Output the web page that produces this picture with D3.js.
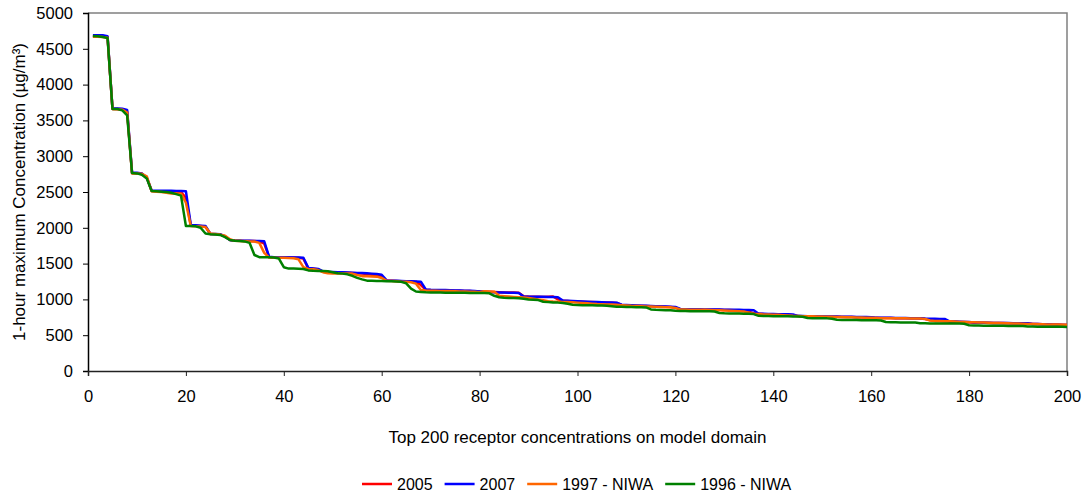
<!DOCTYPE html>
<html>
<head>
<meta charset="utf-8">
<script src="https://cdn.jsdelivr.net/npm/d3@7"></script>
<style>
  html, body { margin: 0; padding: 0; background: #fff; }
  svg { display: block; font-family: Arial, "Liberation Sans", sans-serif; }
</style>
</head>
<body>
<svg id="chart" width="1091" height="497"></svg>
<script>
// Receptor rank (1 = highest concentration) on the model domain
const ranks = d3.range(1, 201);

// 1-hour maximum concentrations (µg/m³) for each met year, ranked
const s2005 = [
  4680, 4680, 4678, 4665, 3660, 3660, 3655, 3620, 2765, 2762,
  2755, 2700, 2515, 2512, 2510, 2508, 2506, 2505, 2500, 2420,
  2030, 2028, 2025, 2015, 1912, 1910, 1905, 1880, 1830, 1820,
  1818, 1816, 1815, 1814, 1810, 1780, 1590, 1588, 1586, 1585,
  1585, 1584, 1582, 1570, 1435, 1430, 1420, 1385, 1380, 1378,
  1376, 1374, 1372, 1368, 1365, 1360, 1355, 1345, 1335, 1320,
  1262, 1260, 1258, 1255, 1252, 1250, 1248, 1200, 1135, 1130,
  1128, 1126, 1125, 1124, 1122, 1120, 1118, 1116, 1112, 1110,
  1108, 1105, 1102, 1100, 1098, 1096, 1095, 1094, 1045, 1040,
  1038, 1036, 1035, 1038, 1040, 1000, 980, 976, 972, 970,
  968, 965, 962, 960, 958, 956, 954, 950, 922, 918,
  915, 912, 910, 908, 906, 903, 900, 898, 895, 885,
  862, 860, 860, 858, 858, 856, 856, 855, 854, 853,
  852, 850, 848, 846, 830, 805, 800, 796, 794, 792,
  790, 788, 786, 780, 768, 766, 764, 763, 762, 760,
  758, 757, 756, 755, 754, 753, 752, 750, 748, 746,
  742, 740, 740, 739, 738, 738, 737, 736, 735, 734,
  725, 712, 700, 698, 696, 690, 688, 686, 684, 682,
  675, 674, 673, 672, 671, 670, 669, 668, 667, 666,
  665, 664, 658, 656, 654, 652, 650, 648, 646, 644
];

const s2007 = [
  4690, 4690, 4688, 4675, 3665, 3665, 3662, 3645, 2770, 2768,
  2760, 2700, 2520, 2518, 2518, 2516, 2516, 2515, 2515, 2512,
  2040, 2035, 2030, 2025, 1915, 1912, 1910, 1880, 1830, 1822,
  1820, 1818, 1818, 1816, 1815, 1812, 1595, 1590, 1590, 1588,
  1588, 1586, 1585, 1582, 1440, 1432, 1425, 1390, 1385, 1382,
  1380, 1378, 1375, 1372, 1370, 1368, 1365, 1360, 1355, 1345,
  1265, 1262, 1260, 1258, 1255, 1252, 1250, 1248, 1140, 1135,
  1132, 1130, 1130, 1128, 1126, 1124, 1122, 1120, 1116, 1112,
  1108, 1104, 1100, 1098, 1096, 1094, 1092, 1090, 1040, 1038,
  1038, 1036, 1036, 1034, 1034, 1030, 983, 980, 978, 975,
  972, 968, 965, 962, 960, 958, 955, 953, 925, 922,
  918, 915, 912, 910, 908, 905, 902, 900, 898, 895,
  866, 864, 863, 862, 861, 860, 860, 859, 858, 857,
  856, 855, 854, 853, 852, 848, 800, 798, 796, 795,
  794, 793, 792, 790, 770, 768, 766, 765, 764, 763,
  762, 761, 760, 758, 757, 756, 755, 754, 753, 752,
  745, 744, 743, 742, 741, 740, 739, 738, 737, 736,
  732, 730, 729, 728, 727, 692, 690, 688, 686, 684,
  676, 675, 674, 673, 672, 671, 670, 669, 668, 668,
  667, 666, 656, 655, 654, 652, 648, 646, 644, 642
];

const s1997 = [
  4670, 4668, 4665, 4655, 3660, 3655, 3650, 3610, 2760, 2760,
  2755, 2720, 2510, 2505, 2500, 2490, 2480, 2478, 2475, 2350,
  2025, 2020, 2018, 2010, 1920, 1915, 1905, 1890, 1840, 1818,
  1815, 1812, 1810, 1808, 1790, 1650, 1585, 1582, 1580, 1580,
  1578, 1575, 1560, 1450, 1425, 1420, 1410, 1380, 1365, 1362,
  1360, 1362, 1362, 1360, 1340, 1325, 1322, 1320, 1318, 1300,
  1260, 1256, 1252, 1248, 1245, 1240, 1220, 1130, 1125, 1122,
  1120, 1118, 1118, 1116, 1114, 1112, 1110, 1108, 1106, 1100,
  1115, 1112, 1108, 1050, 1045, 1040, 1035, 1030, 1025, 1020,
  1010, 1000, 990, 975, 970, 968, 965, 962, 960, 955,
  950, 945, 940, 935, 932, 930, 928, 925, 920, 915,
  910, 908, 905, 902, 900, 898, 895, 892, 890, 880,
  860, 858, 857, 856, 855, 854, 852, 850, 848, 845,
  842, 838, 835, 830, 815, 800, 795, 790, 788, 786,
  784, 780, 775, 770, 768, 766, 765, 764, 762, 760,
  758, 756, 755, 753, 752, 750, 748, 746, 744, 742,
  740, 738, 737, 736, 736, 735, 735, 734, 733, 732,
  728, 705, 700, 698, 696, 694, 690, 686, 684, 682,
  680, 678, 676, 674, 672, 670, 668, 666, 664, 662,
  660, 658, 656, 654, 652, 650, 648, 648, 647, 646
];

const s1996 = [
  4680, 4675, 4665, 4650, 3660, 3660, 3640, 3570, 2765, 2760,
  2740, 2690, 2514, 2510, 2505, 2500, 2490, 2470, 2450, 2025,
  2025, 2020, 2000, 1920, 1910, 1905, 1900, 1870, 1830, 1820,
  1815, 1810, 1790, 1620, 1590, 1588, 1588, 1585, 1570, 1450,
  1430, 1430, 1428, 1425, 1405, 1400, 1398, 1395, 1392, 1380,
  1365, 1360, 1350, 1330, 1300, 1280, 1262, 1260, 1258, 1256,
  1254, 1252, 1250, 1245, 1225, 1150, 1110, 1105, 1100, 1098,
  1096, 1095, 1094, 1094, 1093, 1092, 1092, 1091, 1090, 1090,
  1088, 1085, 1050, 1030, 1024, 1020, 1018, 1015, 1010, 1000,
  995, 990, 968, 962, 958, 955, 950, 940, 925, 922,
  920, 920, 918, 916, 914, 912, 905, 898, 896, 895,
  893, 892, 890, 888, 860, 855, 852, 850, 848, 840,
  838, 837, 836, 835, 835, 834, 833, 830, 810, 805,
  804, 803, 802, 800, 798, 795, 770, 768, 767, 766,
  765, 764, 763, 762, 760, 758, 740, 738, 737, 736,
  735, 730, 715, 714, 713, 712, 711, 710, 710, 709,
  708, 706, 685, 682, 680, 679, 678, 677, 676, 668,
  666, 665, 665, 664, 664, 663, 662, 662, 660, 640,
  635, 634, 633, 633, 632, 632, 631, 630, 630, 629,
  628, 622, 620, 619, 619, 618, 618, 617, 617, 616
];

const seriesNames = ["2005", "2007", "1997 - NIWA", "1996 - NIWA"];
const seriesColors = ["#ff0000", "#0000ff", "#ff6600", "#008000"];
const xTicks = [0, 20, 40, 60, 80, 100, 120, 140, 160, 180, 200];
const yTicks = [0, 500, 1000, 1500, 2000, 2500, 3000, 3500, 4000, 4500, 5000];
const xTitle = "Top 200 receptor concentrations on model domain";
const yTitle = "1-hour maximum Concentration (µg/m³)";

const series = [s2005, s2007, s1997, s1996].map((vals, i) => ({
  name: seriesNames[i],
  color: seriesColors[i],
  points: ranks.map((r, j) => ({ rank: r, value: vals[j] }))
}));

const svg = d3.select("#chart");
const plot = { left: 88, right: 1067, top: 13, bottom: 371 };
const tickFont = "16.5px";
const titleFont = "17px";
const legendFont = "16px";

const x = d3.scaleLinear().domain([0, 200]).range([plot.left, plot.right]);
const y = d3.scaleLinear().domain([0, 5000]).range([plot.bottom, plot.top]);

// Plot-area frame (top and right edges)
svg.append("path")
  .attr("d", `M${plot.left},${plot.top}H${plot.right}V${plot.bottom}`)
  .attr("fill", "none")
  .attr("stroke", "#808080")
  .attr("stroke-width", 1.5);

// Y axis
const yAxis = svg.append("g")
  .attr("transform", `translate(${plot.left},0)`)
  .call(d3.axisLeft(y).tickValues(yTicks).tickSize(5).tickPadding(10).tickFormat(d3.format("d")));
yAxis.select(".domain").attr("stroke", "#000").attr("stroke-width", 1.5);
yAxis.selectAll(".tick line").attr("stroke", "#000");
yAxis.selectAll("text").attr("font-size", tickFont).attr("fill", "#000")
  .style("font-family", "Arial, 'Liberation Sans', sans-serif");

// X axis
const xAxis = svg.append("g")
  .attr("transform", `translate(0,${plot.bottom})`)
  .call(d3.axisBottom(x).tickValues(xTicks).tickSize(5).tickPadding(14).tickFormat(d3.format("d")));
xAxis.select(".domain").attr("stroke", "#222").attr("stroke-width", 1.5);
xAxis.selectAll(".tick line").attr("stroke", "#222");
xAxis.selectAll("text").attr("font-size", tickFont).attr("fill", "#000")
  .style("font-family", "Arial, 'Liberation Sans', sans-serif");

// Axis titles
svg.append("text")
  .attr("x", (plot.left + plot.right) / 2)
  .attr("y", 443)
  .attr("text-anchor", "middle")
  .attr("font-size", titleFont)
  .text(xTitle);

svg.append("text")
  .attr("transform", `translate(25,${(plot.top + plot.bottom) / 2}) rotate(-90)`)
  .attr("text-anchor", "middle")
  .attr("font-size", titleFont)
  .text(yTitle);

// Series lines
const line = d3.line()
  .x(d => x(d.rank))
  .y(d => y(d.value));

svg.append("g")
  .selectAll("path")
  .data(series)
  .join("path")
  .attr("d", d => line(d.points))
  .attr("fill", "none")
  .attr("stroke", d => d.color)
  .attr("stroke-width", 2.5)
  .attr("stroke-linejoin", "round");

// Legend
const legend = svg.append("g");
let lx = 362;
const ly = 484;
series.forEach(s => {
  legend.append("line")
    .attr("x1", lx).attr("x2", lx + 30)
    .attr("y1", ly).attr("y2", ly)
    .attr("stroke", s.color)
    .attr("stroke-width", 2.5);
  const t = legend.append("text")
    .attr("x", lx + 35)
    .attr("y", ly)
    .attr("dy", "0.35em")
    .attr("font-size", legendFont)
    .text(s.name);
  lx += 35 + t.node().getComputedTextLength() + 12;
});
</script>
</body>
</html>
